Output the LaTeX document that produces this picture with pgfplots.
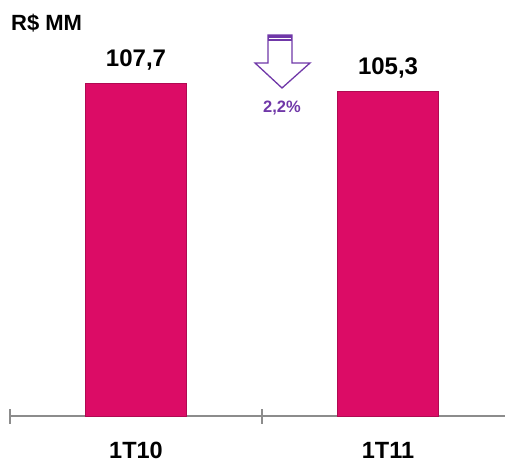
\documentclass[border=0pt]{standalone}
\usepackage{pgfplots}
\pgfplotsset{compat=1.18}
\usepackage{fontspec}
\setmainfont{Liberation Sans}
\definecolor{barpink}{RGB}{220,12,102}
\definecolor{arrowpurple}{RGB}{112,56,168}
\definecolor{axisgrey}{RGB}{140,140,140}
\begin{document}
\begin{tikzpicture}
\begin{axis}[
  scale only axis,
  width=495pt, height=416pt,
  xmin=-0.5, xmax=1.464,
  ymin=0, ymax=134.85,
  axis x line=bottom,
  axis y line=none,
  x axis line style={-, draw=axisgrey, line width=1.3pt},
  xtick={-0.5,0.5},
  xticklabels={,},
  xtick align=center,
  major tick length=15pt,
  xtick style={draw=axisgrey, line width=1.2pt},
  extra x ticks={0,1},
  extra x tick labels={1T10,1T11},
  extra x tick style={major tick length=0pt},
  xticklabel style={font=\fontsize{23.5}{27}\selectfont\bfseries, anchor=north, yshift=-23pt},
  ytick=\empty,
  clip=false,
]
\addplot[ybar, bar width=101pt, fill=barpink, draw=barpink!80!black, line width=0.6pt,
  nodes near coords={\pgfmathprintnumber[fixed,fixed zerofill,precision=1,use comma,assume math mode=true]{\pgfplotspointmeta}},
  every node near coord/.append style={anchor=base, yshift=17pt, inner sep=0pt, font=\fontsize{24}{28}\selectfont\bfseries, text=black},
] coordinates {(0,107.7) (1,105.3)};
\end{axis}
\begin{scope}[shift={([shift={(-10pt,416pt)}]current axis.south west)}, x=1pt, y=-1pt]
  % arrow
  \draw[arrowpurple, line width=1.3pt, fill=white, line join=miter]
    (268,35) -- (292,35) -- (292,63) -- (310,63) -- (282,88) -- (255,63) -- (268,63) -- cycle;
  \fill[arrowpurple] (268,35) rectangle (292,41);
  \draw[white, line width=0.9pt] (269,38) -- (291,38);
  \node[text=arrowpurple, font=\fontsize{16.5}{19}\selectfont\bfseries, inner sep=0pt] at (282,108) {2,2\%};
  \node[anchor=west, font=\fontsize{22}{26}\selectfont\bfseries, inner sep=0pt] at (11,23) {R\$ MM};
  \pgfresetboundingbox
  \useasboundingbox (0,0) rectangle (505,463);
\end{scope}
\end{tikzpicture}
\end{document}
